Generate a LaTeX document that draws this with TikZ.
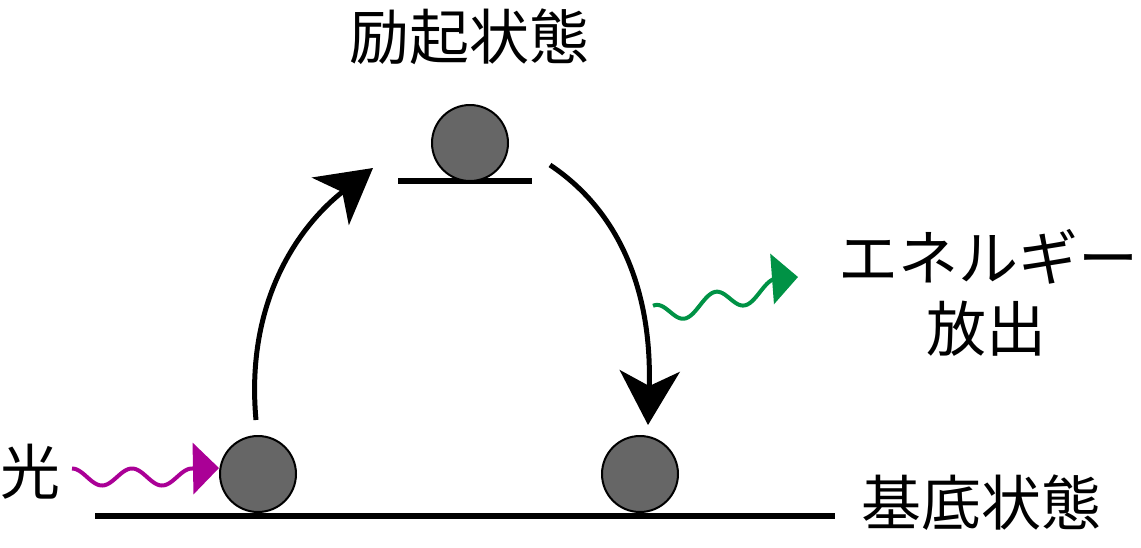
\documentclass[tikz,border=0pt]{standalone}
\usepackage{fontspec}
\setmainfont{Noto Sans CJK JP}
\usepackage{tikz}
\usetikzlibrary{arrows.meta,positioning,calc}
\definecolor{lightcol}{RGB}{170,0,150}
\definecolor{emitcol}{RGB}{0,146,69}
\tikzstyle{particle}=[draw,fill=black!60,circle,minimum size=76pt,inner sep=0pt,line width=2pt]
\tikzstyle{level}=[line width=5.5pt]
\tikzstyle{jptext}=[font=\fontsize{60}{64}\selectfont,inner sep=0pt]
\tikzstyle{transition}=[line width=5pt,-{Stealth[length=54pt,width=60pt,inset=15pt]}]
\tikzstyle{wave}=[line width=4pt]

\begin{document}
\begin{tikzpicture}[x=1pt,y=-1pt]
\useasboundingbox (0,0) rectangle (1141,547);
% energy levels
\coordinate (ground left) at (95,516);
\coordinate (ground right) at (835,516);
\coordinate (excited left) at (398,181);
\coordinate (excited right) at (532,181);
\draw [level] (ground left) -- (ground right);
\draw [level] (excited left) -- (excited right);
% particles
\node [particle] (gl) at (258,474) {};
\node [particle] (gr) at (640,474) {};
\node [particle] (ex) at (470,143) {};
% transitions
\coordinate (upstart) at (256,420);
\coordinate (uptip) at (373,168);
\coordinate (downstart) at (550,165);
\coordinate (downtip) at (648,425);
\draw [transition] (upstart) .. controls (245,300) and (300,225) .. (uptip);
\draw [transition] (downstart) .. controls (625,215) and (652,300) .. (downtip);
% light in, energy out
\coordinate (lighttip) at (219,468);
\coordinate (emittip) at (798,277);
\draw [wave, lightcol, -{Triangle[length=26pt,width=51pt]}]
  plot [domain=72:192, samples=80, smooth] (\x, {477-8.5*cos(6*(\x-72))}) -- (lighttip);
\draw [wave, emitcol, -{Triangle[length=26pt,width=50pt]}]
  plot [domain=653:775, samples=80, smooth] (\x, {305-0.22*(\x-701)-10*cos(6*(\x-655))}) -- (emittip);
% labels
\node [jptext] (excited) at (469,37) {励起状態};
\node [jptext] (light) at (30,472) {光};
\node [jptext] (ground) at (981,503) {基底状態};
\node [jptext] (energy) at (988,257) {エネルギー};
\node [jptext] (emit) at (986,329) {放出};
\end{tikzpicture}
\end{document}
